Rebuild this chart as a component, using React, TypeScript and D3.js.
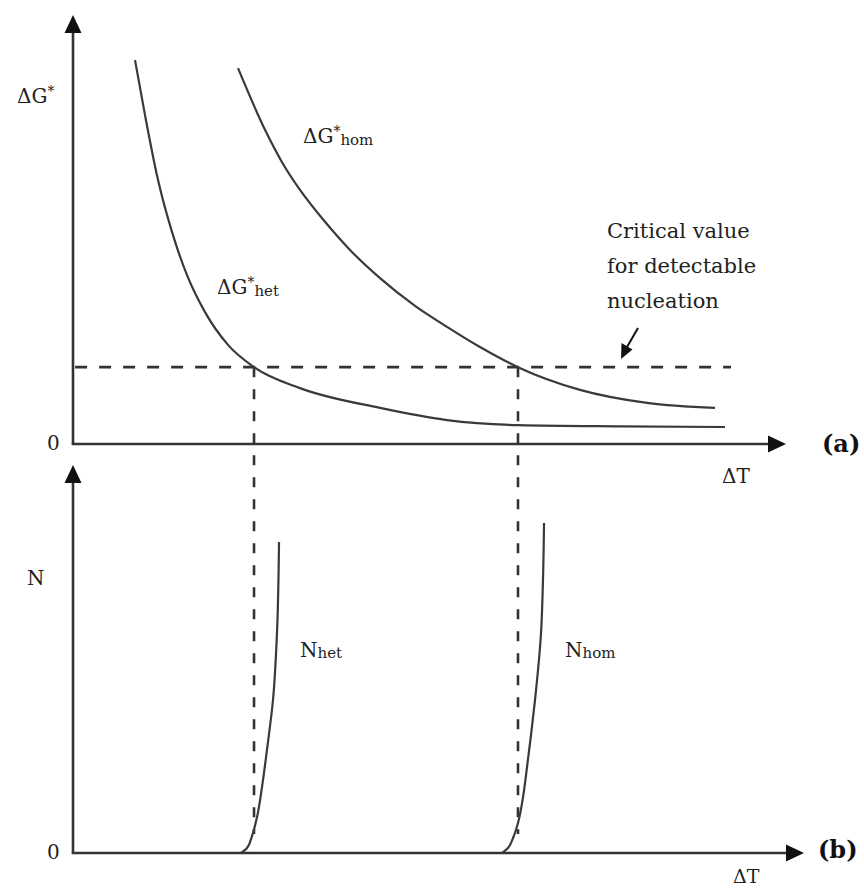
import React from "react";
import * as d3 from "d3";

// ---- data (ΔT in arbitrary units 0..100, ΔG* and N in arbitrary units 0..100) ----
const hetDeltaT = [8.86, 10.29, 12.14, 14.14, 16.29, 18.86, 22.14, 25.86, 32.43, 43.86, 53.43, 63.57, 78.14, 93.14];
const hetDeltaG = [91.4, 78.3, 62.9, 50.5, 40.2, 31.4, 23.6, 18.3, 13.3, 8.6, 5.7, 4.5, 4.2, 4.05];

const homDeltaT = [23.57, 27.43, 29.86, 32.43, 36.0, 39.57, 43.86, 48.86, 53.43, 58.14, 63.57, 72.43, 82.0, 91.71];
const homDeltaG = [89.5, 74.8, 67.1, 60.5, 52.9, 46.2, 39.5, 32.9, 27.9, 23.1, 18.3, 12.9, 9.8, 8.6];

const nHetDeltaT = [24.0, 24.86, 25.57, 26.29, 27.0, 27.71, 28.57, 29.14, 29.43];
const nHetN = [0, 1.32, 4.47, 9.47, 17.37, 27.11, 40.26, 57.89, 81.84];

const nHomDeltaT = [61.29, 62.14, 62.86, 63.57, 64.29, 64.86, 65.43, 66.0, 66.86, 67.14, 67.29];
const nHomN = [0, 1.32, 3.95, 7.89, 14.74, 22.63, 31.05, 40.26, 57.89, 71.84, 86.84];

const CRITICAL = 18.3;
const HET_CROSS = 25.86;
const HOM_CROSS = 63.57;

const calloutLines = ["Critical value", "for detectable", "nucleation"];

const W = 864;
const H = 889;
const FONT = "'DejaVu Serif', serif";
const INK = "#333";

export default function App() {
  const x = d3.scaleLinear().domain([0, 100]).range([73, 773]);
  const yTop = d3.scaleLinear().domain([0, 100]).range([444, 24]);
  const yBot = d3.scaleLinear().domain([0, 100]).range([853, 473]);

  const lineTop = d3
    .line<[number, number]>()
    .x((d) => x(d[0]))
    .y((d) => yTop(d[1]))
    .curve(d3.curveMonotoneX);
  const lineBot = d3
    .line<[number, number]>()
    .x((d) => x(d[0]))
    .y((d) => yBot(d[1]))
    .curve(d3.curveMonotoneY);

  const zip = (a: number[], b: number[]) => a.map((v, i) => [v, b[i]] as [number, number]);

  const x0 = x(0);
  const topAxisY = yTop(0);
  const botAxisY = yBot(0);
  const critY = yTop(CRITICAL);

  const arrowUp = (cx: number, tipY: number) =>
    `M${cx},${tipY} L${cx - 8.5},${tipY + 18} L${cx + 8.5},${tipY + 18} Z`;
  const arrowRight = (tipX: number, cy: number) =>
    `M${tipX},${cy} L${tipX - 18},${cy - 8.5} L${tipX - 18},${cy + 8.5} Z`;

  const topTipY = 15;
  const botTipY = 465;
  const topTipX = 786;
  const botTipX = 804;

  return (
    <svg
      width={W}
      height={H}
      style={{ position: "absolute", left: 0, top: 0, background: "#fff" }}
      fontFamily={FONT}
    >
      <rect width={W} height={H} fill="#fff" />
      {/* ---- panel (a) axes ---- */}
      <line x1={x0} y1={topAxisY} x2={x0} y2={topTipY + 10} stroke={INK} strokeWidth={2.6} />
      <path d={arrowUp(x0, topTipY)} fill="#111" />
      <line x1={x0 - 1.3} y1={topAxisY} x2={topTipX - 10} y2={topAxisY} stroke={INK} strokeWidth={2.6} />
      <path d={arrowRight(topTipX, topAxisY)} fill="#111" />

      {/* ---- panel (b) axes ---- */}
      <line x1={x0} y1={botAxisY} x2={x0} y2={botTipY + 10} stroke={INK} strokeWidth={2.6} />
      <path d={arrowUp(x0, botTipY)} fill="#111" />
      <line x1={x0 - 1.3} y1={botAxisY} x2={botTipX - 10} y2={botAxisY} stroke={INK} strokeWidth={2.6} />
      <path d={arrowRight(botTipX, botAxisY)} fill="#111" />

      {/* ---- critical level dashed line ---- */}
      <line
        x1={x(0.3)}
        y1={critY}
        x2={x(94)}
        y2={critY}
        stroke={INK}
        strokeWidth={2.6}
        strokeDasharray="12 12"
      />
      {/* vertical dashed drop lines */}
      {[HET_CROSS, HOM_CROSS].map((v, i) => (
        <line
          key={i}
          x1={x(v)}
          y1={critY}
          x2={x(v)}
          y2={yBot(5)}
          stroke={INK}
          strokeWidth={2.6}
          strokeDasharray="10 12"
        />
      ))}

      {/* ---- curves ---- */}
      <path d={lineTop(zip(hetDeltaT, hetDeltaG)) || ""} fill="none" stroke="#3a3a3a" strokeWidth={2.2} />
      <path d={lineTop(zip(homDeltaT, homDeltaG)) || ""} fill="none" stroke="#3a3a3a" strokeWidth={2.2} />
      <path d={lineBot(zip(nHetDeltaT, nHetN)) || ""} fill="none" stroke="#3a3a3a" strokeWidth={2.2} />
      <path d={lineBot(zip(nHomDeltaT, nHomN)) || ""} fill="none" stroke="#3a3a3a" strokeWidth={2.2} />

      {/* ---- callout arrow ---- */}
      <line x1={638} y1={328} x2={627} y2={347} stroke="#111" strokeWidth={2} />
      <path d="M621,359 L621.5,343 L632.5,349.5 Z" fill="#111" />

      {/* ---- texts ---- */}
      <g fill="#222" fontSize={20}>
        <text x={17} y={103}>
          ΔG<tspan fontSize={14} dy={-7}>*</tspan>
        </text>
        <text x={47} y={450}>0</text>
        <text x={47} y={859}>0</text>
        <text x={722} y={483}>ΔT</text>
        <text x={733} y={883} fontSize={19}>ΔT</text>
        <text x={27} y={585}>N</text>

        <text x={303} y={143}>
          ΔG<tspan fontSize={14} dy={-7}>*</tspan>
          <tspan fontSize={15} dy={9}>hom</tspan>
        </text>
        <text x={217} y={294}>
          ΔG<tspan fontSize={14} dy={-7}>*</tspan>
          <tspan fontSize={15} dy={9}>het</tspan>
        </text>

        <text x={300} y={657}>
          N<tspan fontSize={15} dy={1}>het</tspan>
        </text>
        <text x={565} y={657}>
          N<tspan fontSize={15} dy={1}>hom</tspan>
        </text>

        {calloutLines.map((t, i) => (
          <text key={i} x={607} y={238 + i * 35} fontSize={21}>
            {t}
          </text>
        ))}
      </g>
      <g fill="#111" fontSize={24} fontWeight="bold">
        <text x={822} y={452}>(a)</text>
        <text x={818} y={858}>(b)</text>
      </g>
    </svg>
  );
}
